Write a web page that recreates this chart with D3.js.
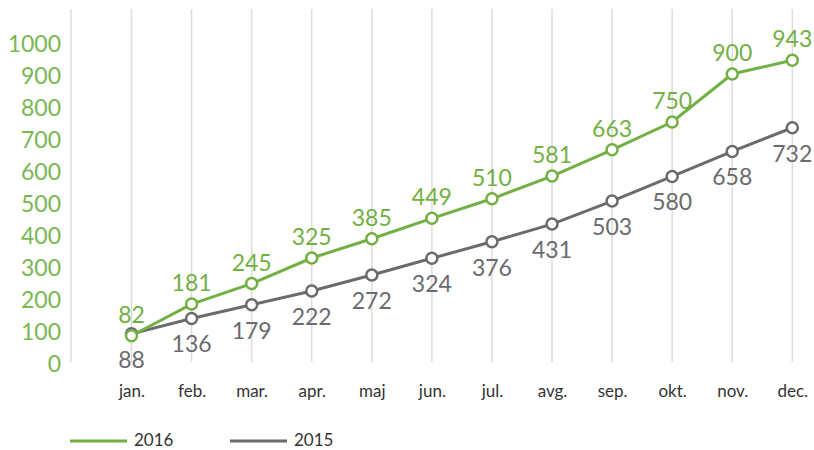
<!DOCTYPE html>
<html>
<head>
<meta charset="utf-8">
<script src="https://cdn.jsdelivr.net/npm/d3@7"></script>
<style>
  body { margin: 0; background: #fff; }
  svg { display: block; font-family: Lato, sans-serif; }
</style>
</head>
<body>
<div id="grafico"></div>
<script>
// Dados
const meses = ['jan.', 'feb.', 'mar.', 'apr.', 'maj', 'jun.', 'jul.', 'avg.', 'sep.', 'okt.', 'nov.', 'dec.'];
const serie2016 = [82, 181, 245, 325, 385, 449, 510, 581, 663, 750, 900, 943];
const serie2015 = [88, 136, 179, 222, 272, 324, 376, 431, 503, 580, 658, 732];
const ticksY = [0, 100, 200, 300, 400, 500, 600, 700, 800, 900, 1000];

const largura = 814;
const altura = 450;
const verde = '#72b043';
const cinza = '#6b6a6e';
const fonte = 'Lato, sans-serif';

const svg = d3.select('#grafico')
  .append('svg')
  .attr('width', largura)
  .attr('height', altura);

// Escalas
const x = d3.scalePoint().domain(meses).range([131.5, 792.3]);
const y = d3.scaleLinear().domain([0, 1000]).range([362, 42]);

// Linhas de grade verticais
svg.append('g')
  .selectAll('line')
  .data(meses)
  .enter()
  .append('line')
  .attr('x1', d => x(d))
  .attr('x2', d => x(d))
  .attr('y1', 9)
  .attr('y2', 362)
  .attr('stroke', '#dcdcdc')
  .attr('stroke-width', 1.5);

// eixo y (linha)
svg.append('line')
  .attr('x1', 71).attr('x2', 71)
  .attr('y1', 9).attr('y2', 362)
  .attr('stroke', '#dcdcdc')
  .attr('stroke-width', 1.5);

// eixo Y
const eixoY = svg.append('g')
  .attr('transform', 'translate(61,0)')
  .call(d3.axisLeft(y).tickValues(ticksY).tickFormat(d3.format('d')).tickSize(0).tickPadding(0));
eixoY.select('.domain').remove();
eixoY.selectAll('text')
  .attr('fill', '#77b852')
  .attr('font-size', 23)
  .attr('font-family', fonte)
  .attr('dy', '0.4em');

// eixo X
const eixoX = svg.append('g')
  .attr('transform', 'translate(0,385)')
  .call(d3.axisBottom(x).tickSize(0).tickPadding(0));
eixoX.select('.domain').remove();
eixoX.selectAll('text')
  .attr('fill', '#333')
  .attr('font-size', 17)
  .attr('font-family', fonte);

const linha = d3.line()
  .x((d, i) => x(meses[i]))
  .y(d => y(d));

function desenhaSerie(valores, cor, acima) {
  svg.append('path')
    .datum(valores)
    .attr('d', linha)
    .attr('fill', 'none')
    .attr('stroke', cor)
    .attr('stroke-width', 3);

  svg.append('g')
    .selectAll('circle')
    .data(valores)
    .enter()
    .append('circle')
    .attr('cx', (d, i) => x(meses[i]))
    .attr('cy', d => y(d))
    .attr('r', 5.5)
    .attr('fill', '#fff')
    .attr('stroke', cor)
    .attr('stroke-width', 2.5);

  svg.append('g')
    .selectAll('text')
    .data(valores)
    .enter()
    .append('text')
    .attr('x', (d, i) => x(meses[i]))
    .attr('y', d => y(d) + (acima ? -13 : 34))
    .attr('text-anchor', 'middle')
    .attr('font-size', 23)
    .attr('fill', cor)
    .text(d => d);
}

desenhaSerie(serie2015, cinza, false);
desenhaSerie(serie2016, verde, true);

// Legenda
const legenda = [
  { nome: '2016', cor: verde, x0: 70 },
  { nome: '2015', cor: cinza, x0: 230 }
];
const gLeg = svg.append('g');
legenda.forEach(l => {
  gLeg.append('line')
    .attr('x1', l.x0).attr('x2', l.x0 + 57)
    .attr('y1', 441).attr('y2', 441)
    .attr('stroke', l.cor)
    .attr('stroke-width', 3);
  gLeg.append('text')
    .attr('x', l.x0 + 64)
    .attr('y', 446)
    .attr('font-size', 17)
    .attr('fill', '#333')
    .text(l.nome);
});
</script>
</body>
</html>
